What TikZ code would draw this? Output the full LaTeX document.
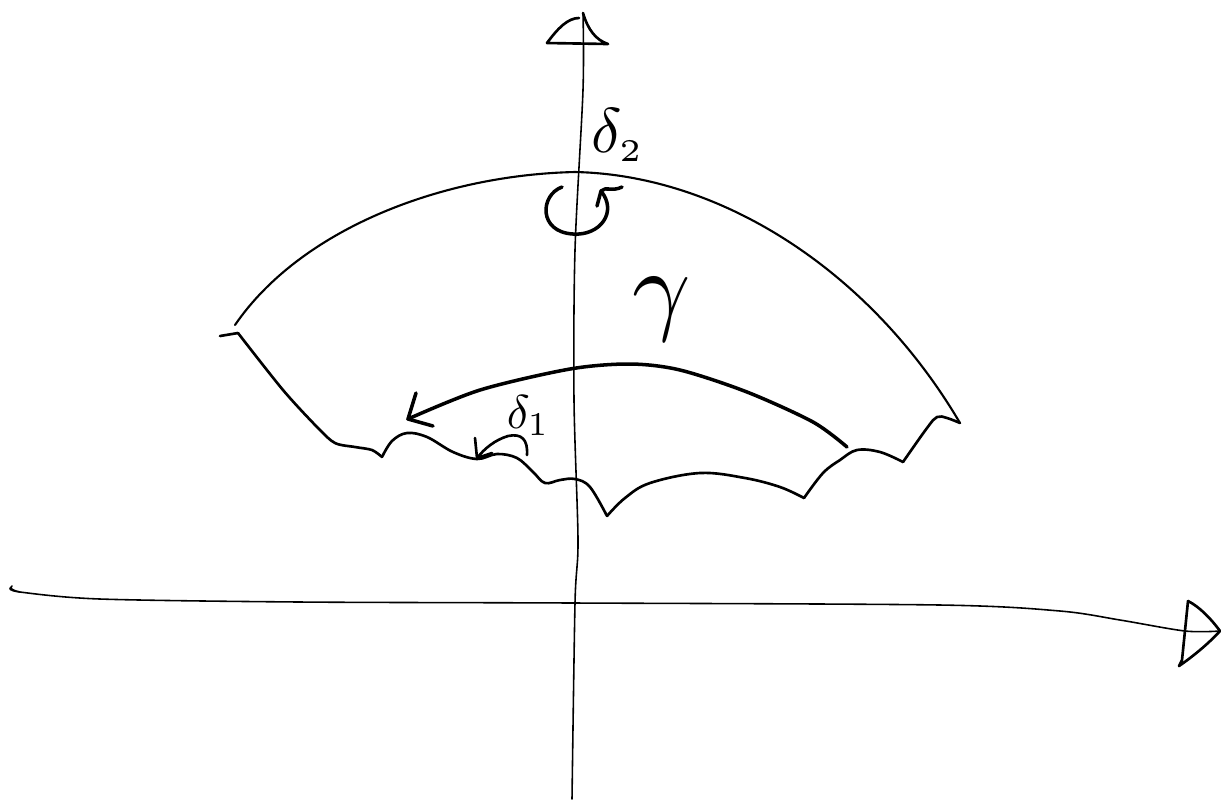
\documentclass[tikz,border=0pt]{standalone}
\begin{document}
\begin{tikzpicture}[x=0.01cm,y=-0.01cm,
  thinline/.style={line width=0.45pt,line cap=round,line join=round},
  midline/.style={line width=0.75pt,line cap=round,line join=round},
  thickline/.style={line width=1.0pt,line cap=round,line join=round},
  lbl/.style={inner sep=0pt}]
\useasboundingbox (0,0) rectangle (1221,799);
% axes
\coordinate (ytop) at (583,13);
\coordinate (ybot) at (572,799);
\coordinate (xleft) at (10,588);
\coordinate (xright) at (1220,631);
\draw[thinline] plot[smooth,tension=0.5] coordinates {(ytop) (583,90) (575,250) (574,400) (578,540) (575,603) (ybot)};
\draw[thinline] plot[smooth,tension=0.5] coordinates {(xleft) (20,592) (100,599) (300,602) (575,603) (940,605) (1060,611) (1120,620) (1185,631) (xright)};
\draw[thinline] (12,586) .. controls (8,588) and (14,591) .. (20,592);
% top arrowhead
\draw[midline] (547,43) .. controls (558,28) and (568,18) .. (579,18);
\draw[midline] (ytop) .. controls (588,30) and (596,40) .. (608,44) -- (547,43);
% right arrowhead
\draw[midline] (1188,601) -- (1182,660) -- (1179,666) .. controls (1195,655) and (1210,642) .. (xright);
\draw[midline] (1188,601) .. controls (1200,607) and (1212,620) .. (xright);
% outer arc
\coordinate (oL) at (235,325);
\coordinate (oT) at (575,172);
\coordinate (oR) at (960,423);
\draw[thinline,line width=0.6pt] (oL) .. controls (300,230) and (440,175) .. (oT) .. controls (720,175) and (870,270) .. (oR);
% wavy lower boundary
\draw[midline] (220,336) -- (238,333);
\draw[midline] plot[smooth,tension=0.5] coordinates {(238,333) (283,390) (318,428) (335,443) (355,447) (372,450) (382,457)};
\draw[midline] plot[smooth,tension=0.6] coordinates {(382,457) (392,441) (407,433) (427,437) (453,452) (477,459) (497,454) (517,458) (533,472) (545,483) (560,480) (575,479) (590,487) (607,516)};
\draw[midline] plot[smooth,tension=0.6] coordinates {(607,516) (625,498) (650,483) (700,473) (745,478) (780,487) (804,498)};
\draw[midline] plot[smooth,tension=0.6] coordinates {(804,498) (823,473) (840,460) (857,450) (880,452) (903,462)};
\draw[midline] plot[smooth,tension=0.6] coordinates {(903,462) (927,428) (937,417) (947,418) (oR)};
% gamma arc
\coordinate (gR) at (847,447);
\coordinate (gL) at (408,419);
\draw[thickline] plot[smooth] coordinates {(gR) (813,422) (747,392) (680,370) (630,364) (570,369) (480,390) (gL)};
\draw[thickline] (416,393) -- (gL) -- (433,426);
% delta1 arrow
\coordinate (d1tip) at (477,458);
\draw[midline] (527,455) .. controls (528,440) and (522,433) .. (508,436) .. controls (495,440) and (485,448) .. (d1tip);
\draw[midline] (475,438) -- (d1tip) -- (492,453);
% rotation arrow
\coordinate (rtip) at (601,191);
\draw[thickline] (562,187) .. controls (540,195) and (538,232) .. (573,234) .. controls (600,236) and (618,212) .. (rtip);
\draw[thickline] (597,206) -- (rtip) .. controls (606,186) and (612,192) .. (622,187);
% labels
\node[lbl,anchor=base west,scale=1.8] (d2) at (590,152) {$\delta_{\scriptscriptstyle 2}$};
\node[lbl,anchor=base west,scale=1.35] (d1) at (506,428) {$\delta_1$};
\node[lbl,scale=2.9] (g) at (662,309) {$\gamma$};
\end{tikzpicture}
\end{document}
